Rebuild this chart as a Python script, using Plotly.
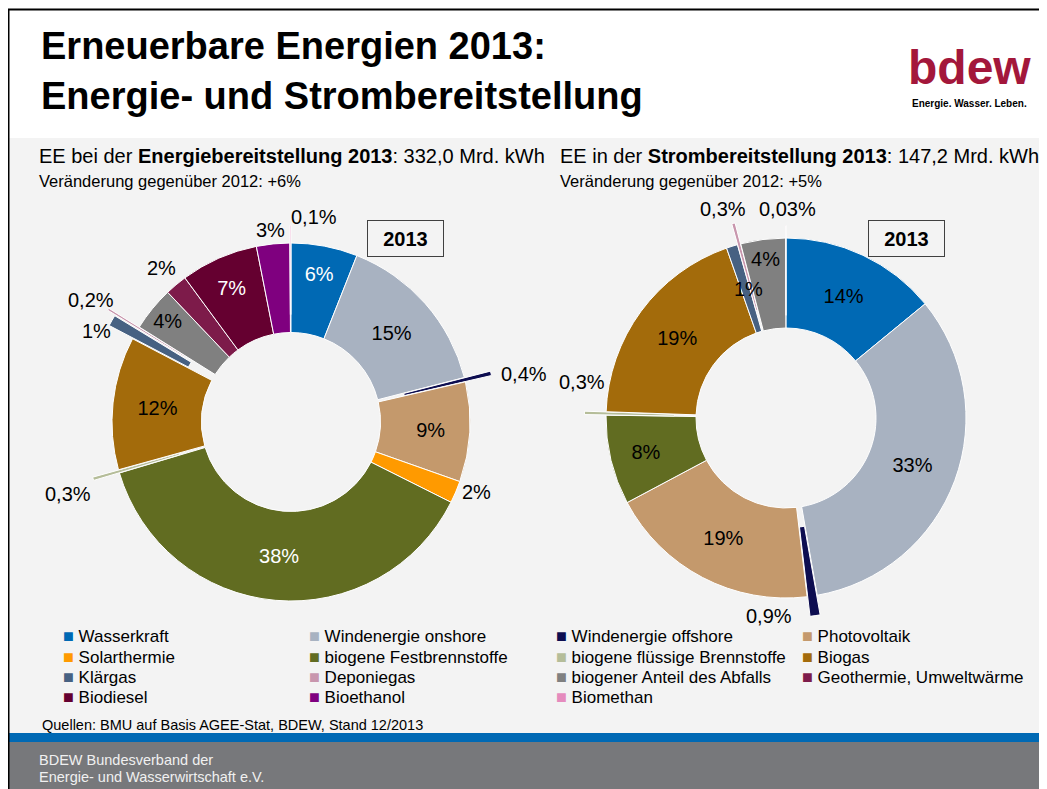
import plotly.graph_objects as go

# categories (legend order)
categories = [
    "Wasserkraft", "Windenergie onshore", "Windenergie offshore", "Photovoltaik",
    "Solarthermie", "biogene Festbrennstoffe", "biogene flüssige Brennstoffe", "Biogas",
    "Klärgas", "Deponiegas", "biogener Anteil des Abfalls", "Geothermie, Umweltwärme",
    "Biodiesel", "Bioethanol", "Biomethan",
]

# EE bei der Energiebereitstellung 2013 (share in %)
energie_labels = categories
energie_share = [6, 15, 0.4, 9, 2, 38, 0.3, 12, 1, 0.2, 4, 2, 7, 3, 0.1]

# EE in der Strombereitstellung 2013 (share in %)
strom_labels = [
    "Wasserkraft", "Windenergie onshore", "Windenergie offshore", "Photovoltaik",
    "biogene Festbrennstoffe", "biogene flüssige Brennstoffe", "Biogas", "Klärgas",
    "Deponiegas", "biogener Anteil des Abfalls", "Geothermie, Umweltwärme",
]
strom_share = [14, 33, 0.9, 19, 8, 0.3, 19, 1, 0.3, 4, 0.03]

colors = {
    "Wasserkraft": "#0069b4",
    "Windenergie onshore": "#a8b2c1",
    "Windenergie offshore": "#0d0d50",
    "Photovoltaik": "#c4996c",
    "Solarthermie": "#ff9a00",
    "biogene Festbrennstoffe": "#616c21",
    "biogene flüssige Brennstoffe": "#b5bd99",
    "Biogas": "#a36b0b",
    "Klärgas": "#476182",
    "Deponiegas": "#c896ad",
    "biogener Anteil des Abfalls": "#808080",
    "Geothermie, Umweltwärme": "#7d1b4a",
    "Biodiesel": "#650030",
    "Bioethanol": "#7f007f",
    "Biomethan": "#e58bbd",
}

W, H = 1047, 789
OFF = 8  # page body margin
FONT = "Arial, Liberation Sans, sans-serif"


def px(x):
    return (x - OFF) / W


def py(y):
    return 1 - (y - OFF) / H


def pct(v):
    return ("%g%%" % v).replace(".", ",")


def domain(cx, cy, r, maxpull):
    half = r * (1 + maxpull)
    return dict(x=[px(cx - half), px(cx + half)], y=[py(cy + half), py(cy - half)])


white_text = {"Wasserkraft", "biogene Festbrennstoffe", "Biodiesel"}

# small slices: label drawn next to the slice (page pixel position of the label centre)
outside_left = {
    "Windenergie offshore": (524, 374), "Solarthermie": (476, 492),
    "biogene flüssige Brennstoffe": (68, 494), "Klärgas": (96, 331),
    "Deponiegas": (91, 300), "Geothermie, Umweltwärme": (161, 268),
    "Bioethanol": (270, 230), "Biomethan": (314, 217),
}
pull_left = {"Windenergie offshore": 0.15, "biogene flüssige Brennstoffe": 0.15,
             "Klärgas": 0.15, "Deponiegas": 0.2, "Biomethan": 0.1}

outside_right = {
    "Windenergie offshore": (769, 616), "biogene flüssige Brennstoffe": (582, 382),
    "Klärgas": (748, 289), "Deponiegas": (723, 209), "Geothermie, Umweltwärme": (787, 209),
}
pull_right = {"Windenergie offshore": 0.11, "biogene flüssige Brennstoffe": 0.12,
              "Deponiegas": 0.12, "Geothermie, Umweltwärme": 0.07}

left = go.Pie(
    labels=energie_labels,
    values=energie_share,
    text=[pct(v) for v in energie_share],
    textinfo="text",
    hole=0.5,
    sort=False,
    direction="clockwise",
    pull=[pull_left.get(l, 0) for l in energie_labels],
    marker=dict(colors=[colors[l] for l in energie_labels], line=dict(color="white", width=1)),
    textposition=["none" if l in outside_left else "inside" for l in energie_labels],
    insidetextorientation="horizontal",
    insidetextfont=dict(family=FONT, size=20,
                        color=["white" if l in white_text else "black" for l in energie_labels]),
    domain=domain(291, 422, 179, 0.2),
    showlegend=False,
)

right = go.Pie(
    labels=strom_labels,
    values=strom_share,
    text=[pct(v) for v in strom_share],
    textinfo="text",
    hole=0.5,
    sort=False,
    direction="clockwise",
    pull=[pull_right.get(l, 0) for l in strom_labels],
    marker=dict(colors=[colors[l] for l in strom_labels], line=dict(color="white", width=1)),
    textposition=["none" if l in outside_right else "inside" for l in strom_labels],
    insidetextorientation="horizontal",
    insidetextfont=dict(family=FONT, size=20, color="black"),
    domain=domain(786, 418, 180, 0.12),
    showlegend=False,
)

fig = go.Figure(data=[left, right])

shapes = [
    dict(type="rect", x0=px(9), x1=1, y0=py(733), y1=py(138), fillcolor="#f3f3f3", line_width=0, layer="below"),
    dict(type="rect", x0=px(9), x1=1, y0=py(742), y1=py(733), fillcolor="#0069b4", line_width=0, layer="below"),
    dict(type="rect", x0=px(9), x1=1, y0=py(800), y1=py(742), fillcolor="#77787b", line_width=0, layer="below"),
    dict(type="line", x0=px(8), x1=1, y0=py(9.5), y1=py(9.5), line=dict(color="black", width=2)),
    dict(type="line", x0=px(8.5), x1=px(8.5), y0=py(800), y1=py(9), line=dict(color="black", width=2)),
]


def note(x, y, text, size, color="black", xanchor="left", **kw):
    return dict(x=px(x), y=py(y), xref="paper", yref="paper", text=text, showarrow=False,
                xanchor=xanchor, yanchor="middle", font=dict(family=FONT, size=size, color=color), **kw)


annotations = [
    note(39, 46, "<b>Erneuerbare Energien 2013:</b>", 38),
    note(39, 96, "<b>Energie- und Strombereitstellung</b>", 38),
    note(969, 68, "<b>bdew</b>", 48, color="#a3173b", xanchor="center"),
    note(969, 103, "<b>Energie. Wasser. Leben.</b>", 10, xanchor="center"),
    note(37, 156, "EE bei der <b>Energiebereitstellung 2013</b>: 332,0 Mrd. kWh", 20),
    note(37, 181, "Veränderung gegenüber 2012: +6%", 16.5),
    note(558, 156, "EE in der <b>Strombereitstellung 2013</b>: 147,2 Mrd. kWh", 20),
    note(558, 181, "Veränderung gegenüber 2012: +5%", 16.5),
    note(405, 239, "<b>2013</b>", 20, xanchor="center", width=73, height=33,
         bordercolor="#404040", borderwidth=1),
    note(906, 239, "<b>2013</b>", 20, xanchor="center", width=73, height=33,
         bordercolor="#404040", borderwidth=1),
    note(40, 725, "Quellen: BMU auf Basis AGEE-Stat, BDEW, Stand 12/2013", 14.5),
    note(37, 760, "BDEW Bundesverband der", 14.5, color="#f0f0f0"),
    note(37, 777, "Energie- und Wasserwirtschaft e.V.", 14.5, color="#f0f0f0"),
]

# labels of the small slices
for labels, share, pos in [(energie_labels, energie_share, outside_left),
                           (strom_labels, strom_share, outside_right)]:
    for lab, v in zip(labels, share):
        if lab in pos:
            x, y = pos[lab]
            annotations.append(note(x, y, pct(v), 20, xanchor="center"))

# legend: 4 columns, row by row
col_x = [61, 307, 554, 800]
row_y = [636, 657, 677, 697]
for i, lab in enumerate(categories):
    swatch = "<span style='font-size:18px;color:%s'>■</span>" % colors[lab]
    annotations.append(note(col_x[i % 4], row_y[i // 4], swatch + " " + lab, 17))

fig.update_layout(
    width=W,
    height=H,
    margin=dict(l=0, r=0, t=0, b=0, autoexpand=False),
    paper_bgcolor="white",
    plot_bgcolor="white",
    font=dict(family=FONT, color="black"),
    uniformtext=dict(minsize=20, mode="show"),
    showlegend=False,
    shapes=shapes,
    annotations=annotations,
)

fig.write_html("out.html")
